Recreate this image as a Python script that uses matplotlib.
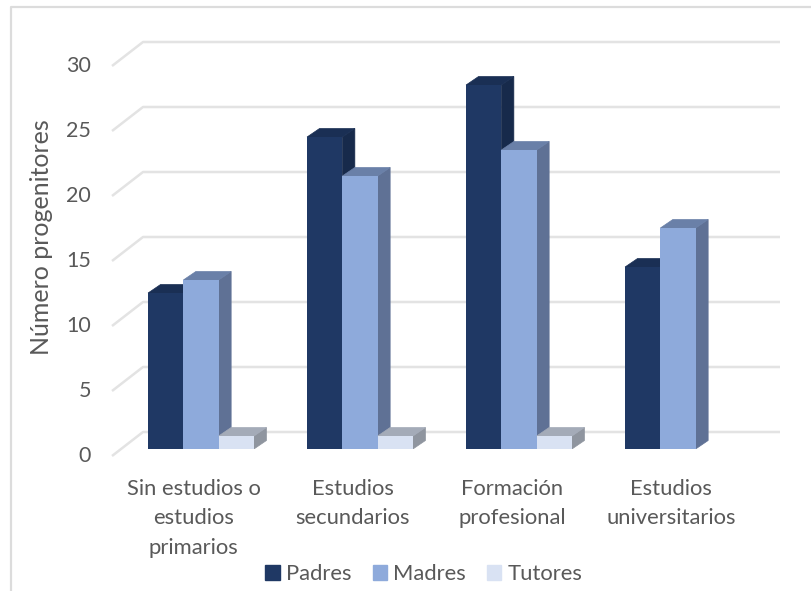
# 3D-look column chart, drawn by hand on a 2D axes

import matplotlib
matplotlib.use("Agg")
import matplotlib.pyplot as plt
from matplotlib.lines import Line2D
from matplotlib.patches import Patch, Polygon

categories = ["Sin estudios o\nestudios\nprimarios", "Estudios\nsecundarios",
              "Formación\nprofesional", "Estudios\nuniversitarios"]
padres = [12, 24, 28, 14]
madres = [13, 21, 23, 17]
tutores = [1, 1, 1, 0]
y_ticks = [0, 5, 10, 15, 20, 25, 30]

W, H = 811, 591
plt.rcParams["font.family"] = ["Lato", "DejaVu Sans"]
TEXT = "#595959"
GRID = "#e3e3e3"

fig = plt.figure(figsize=(W / 100, H / 100), dpi=100)
fig.patch.set_facecolor("white")

# axes box in pixels: x -0.5..3.5 and y 0..30
px_left, px_right = 121.5, 757.5
px_bottom, px_top = 449, 59
ax = fig.add_axes([px_left / W, 1 - px_bottom / H, (px_right - px_left) / W, (px_bottom - px_top) / H])
ax.set_xlim(-0.5, 3.5)
ax.set_ylim(0, 30)
ax.axis("off")

ux = (px_right - px_left) / 4   # pixels per category
uy = (px_bottom - px_top) / 30  # pixels per value

# outer frame, only left and top are visible in the picture
fig.add_artist(Line2D([11 / W, 11 / W, 1], [0, 1 - 7 / H, 1 - 7 / H], color="#dcdcdc", lw=1.6))

# gridlines, floor/wall depth
fx, fy = -9.5 / ux, -7 / uy
bx, by = 21.5 / ux, 17 / uy
end_x = (780 - px_left) / ux - 0.5
for t in y_ticks:
    ax.plot([-0.5 + fx, -0.5 + bx, end_x], [t + fy, t + by, t + by], color=GRID, lw=1.8,
            solid_capstyle="butt", clip_on=False, zorder=1)
    ax.text(-0.5 + fx - 21 / ux, t + fy, str(t), ha="right", va="center", fontsize=15.5, color=TEXT)

# bars
bw = 35.3 / ux
dx, dy = 12.5 / ux, 8.5 / uy
series = [
    (padres, "#1f3864", "#1a2f54", "#172a4b", "Padres"),
    (madres, "#8eaadb", "#6a80a8", "#5f7195", "Madres"),
    (tutores, "#d9e2f3", "#a4abb8", "#8f959f", "Tutores"),
]
z = 2
for s, (vals, front, top, side, name) in enumerate(series):
    for i, v in enumerate(vals):
        if v == 0:
            continue
        x0 = i + (s - 1.5) * bw
        x1 = x0 + bw
        ax.add_patch(Polygon([(x1, 0), (x1 + dx, dy), (x1 + dx, v + dy), (x1, v)], fc=side, ec=side, lw=0.5, zorder=z))
        ax.add_patch(Polygon([(x0, v), (x1, v), (x1 + dx, v + dy), (x0 + dx, v + dy)], fc=top, ec=top, lw=0.5, zorder=z))
        ax.bar(x0, v, width=bw, align="edge", color=front, zorder=z + 0.5)
    z += 1

# category labels
for i, c in enumerate(categories):
    ax.text(i - 0.045, -2.3, c, ha="center", va="top", fontsize=15.8, color=TEXT, linespacing=1.6)

fig.text(42 / W, 1 - 237 / H, "Número progenitores", rotation=90, ha="center", va="center", fontsize=18, color=TEXT)

handles = [Patch(color=c[1], label=c[4]) for c in series]
fig.legend(handles=handles, loc="center", bbox_to_anchor=(424 / W, 1 - 574 / H), ncol=3, frameon=False,
           fontsize=15.8, labelcolor=TEXT, handlelength=0.65, handleheight=0.65, handletextpad=0.3,
           columnspacing=0.95, borderpad=0)

fig.savefig("out.png", dpi=100)
